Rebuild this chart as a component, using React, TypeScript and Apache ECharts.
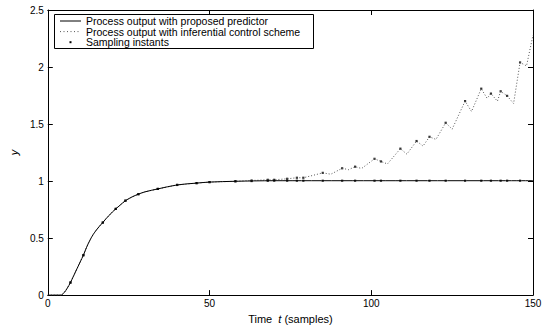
import React, { useEffect, useRef } from "react";
import * as echarts from "echarts";

// Proposed predictor (solid curve)
const solidT = [0, 4, 5, 6, 7, 8, 9, 10, 11, 12, 13, 14, 15, 16, 17, 18, 19, 20, 21, 22, 24, 26, 28, 30, 34, 40, 46, 50, 58, 70, 150];
const solidY = [0, 0, 0.02, 0.06, 0.11, 0.17, 0.23, 0.29, 0.35, 0.42, 0.48, 0.53, 0.57, 0.605, 0.636, 0.67, 0.7, 0.73, 0.756, 0.78, 0.828, 0.86, 0.885, 0.905, 0.931, 0.966, 0.982, 0.991, 0.998, 1.003, 1.003];

// Inferential control scheme (dotted curve)
const inferT = [0, 4, 5, 6, 7, 8, 9, 10, 11, 12, 13, 14, 15, 16, 17, 18, 19, 20, 21, 22, 24, 26, 28, 30, 34, 40, 46, 50, 58, 63, 68, 70, 74, 77, 79, 82, 85, 87.5, 91, 93, 95, 97, 101, 103, 105, 109, 111, 114, 116, 118, 120, 123, 125, 129, 131, 134, 135.8, 137, 139, 140, 142, 144, 146, 148, 150];
const inferY = [0, 0, 0.02, 0.06, 0.11, 0.17, 0.23, 0.29, 0.35, 0.42, 0.48, 0.53, 0.57, 0.605, 0.636, 0.67, 0.7, 0.73, 0.756, 0.78, 0.828, 0.86, 0.885, 0.905, 0.931, 0.966, 0.982, 0.991, 0.998, 1.005, 1.011, 1.011, 1.02, 1.029, 1.029, 1.05, 1.072, 1.06, 1.112, 1.1, 1.126, 1.11, 1.195, 1.172, 1.15, 1.284, 1.236, 1.351, 1.307, 1.388, 1.365, 1.511, 1.455, 1.701, 1.61, 1.81, 1.725, 1.767, 1.7, 1.787, 1.747, 1.68, 2.04, 2.01, 2.28];

// Sampling instants
const sampleT = [7, 11, 17, 21, 24, 28, 34, 40, 46, 50, 58, 63, 68, 70, 74, 77, 79, 85, 91, 95, 101, 103, 109, 114, 118, 123, 129, 134, 137, 140, 142, 146];
const sampleSolidY = [0.11, 0.35, 0.636, 0.756, 0.828, 0.885, 0.931, 0.966, 0.982, 0.991, 0.998, 1.0, 1.002, 1.003, 1.003, 1.003, 1.003, 1.003, 1.003, 1.003, 1.003, 1.003, 1.003, 1.003, 1.003, 1.003, 1.003, 1.003, 1.003, 1.003, 1.003, 1.003];
const sampleInferY = [0.11, 0.35, 0.636, 0.756, 0.828, 0.885, 0.931, 0.966, 0.982, 0.991, 0.998, 1.005, 1.011, 1.011, 1.02, 1.029, 1.029, 1.072, 1.112, 1.126, 1.195, 1.172, 1.284, 1.351, 1.388, 1.511, 1.701, 1.81, 1.767, 1.787, 1.747, 2.04];

const legendNames = [
  "Process output with proposed predictor",
  "Process output with inferential control scheme",
  "Sampling instants",
];

const FONT = "'Liberation Sans', Arial, Helvetica, sans-serif";

export default function App() {
  const ref = useRef<HTMLDivElement>(null);
  useEffect(() => {
    if (!ref.current) return;
    const chart = echarts.init(ref.current, undefined, { renderer: "svg" });
    const zip = (a: number[], b: number[]) => a.map((v, i) => [v, b[i]]);
    const axisCommon = {
      axisLine: { show: true, onZero: false, lineStyle: { color: "#000", width: 1 } },
      axisTick: { show: true, inside: true, length: 5, lineStyle: { color: "#000" } },
      splitLine: { show: false },
    };
    const lx = 54, ly = 14;
    const rowGap = 10.6;
    chart.setOption({
      animation: false,
      backgroundColor: "#fff",
      textStyle: { fontFamily: FONT },
      grid: { left: 47, right: 12, top: 10, bottom: 28, containLabel: false },
      xAxis: [
        {
          type: "value", position: "bottom", min: 0, max: 150, interval: 50,
          ...axisCommon,
          axisLabel: { color: "#000", fontSize: 10, margin: 3, fontFamily: FONT },
          name: "{a|Time  }{b|t}{a| (samples)}",
          nameLocation: "middle", nameGap: 16,
          nameTextStyle: {
            rich: {
              a: { fontSize: 11, color: "#000", fontFamily: FONT },
              b: { fontSize: 11, color: "#000", fontStyle: "italic", fontFamily: FONT },
            },
          },
        },
        {
          type: "value", position: "top", min: 0, max: 150, interval: 50,
          ...axisCommon, axisLabel: { show: false },
        },
      ],
      yAxis: [
        {
          type: "value", position: "left", min: 0, max: 2.5, interval: 0.5,
          ...axisCommon,
          axisLabel: { color: "#000", fontSize: 10, margin: 4, fontFamily: FONT },
          name: "y", nameLocation: "middle", nameGap: 26, nameRotate: 90,
          nameTextStyle: { fontSize: 11, color: "#000", fontStyle: "italic", fontFamily: FONT },
        },
        {
          type: "value", position: "right", min: 0, max: 2.5, interval: 0.5,
          ...axisCommon, axisLabel: { show: false },
        },
      ],
      series: [
        {
          name: legendNames[1], type: "line", data: zip(inferT, inferY),
          showSymbol: false, symbol: "none", smooth: false,
          lineStyle: { color: "#555", width: 1, type: [1, 2] },
        },
        {
          name: legendNames[0], type: "line", data: zip(solidT, solidY),
          showSymbol: false, symbol: "none", smooth: 0.35,
          lineStyle: { color: "#000", width: 1 },
        },
        {
          name: legendNames[2], type: "scatter", data: zip(sampleT, sampleSolidY),
          symbol: "rect", symbolSize: 2.2, itemStyle: { color: "#000" },
        },
        {
          name: legendNames[2] + " ", type: "scatter", data: zip(sampleT, sampleInferY),
          symbol: "rect", symbolSize: 2.2, itemStyle: { color: "#000" },
        },
      ],
      graphic: [
        {
          type: "rect", left: lx, top: ly, z: 100,
          shape: { width: 259, height: 34 },
          style: { fill: "#fff", stroke: "#000", lineWidth: 1 },
        },
        {
          type: "line", z: 101,
          shape: { x1: lx + 6, y1: ly + 7, x2: lx + 27, y2: ly + 7 },
          style: { stroke: "#000", lineWidth: 1 },
        },
        {
          type: "line", z: 101,
          shape: { x1: lx + 6, y1: ly + 7 + rowGap, x2: lx + 27, y2: ly + 7 + rowGap },
          style: { stroke: "#555", lineWidth: 1, lineDash: [1, 2.5] },
        },
        {
          type: "rect", z: 101,
          shape: { x: lx + 15.5, y: ly + 6 + 2 * rowGap, width: 2, height: 2 },
          style: { fill: "#000" },
        },
        ...legendNames.map((n, i) => ({
          type: "text", z: 101, x: lx + 32, y: ly + 7 + i * rowGap,
          style: { text: n, fill: "#000", font: `10.5px ${FONT}`, verticalAlign: "middle", align: "left" },
        })),
      ],
    });
    return () => chart.dispose();
  }, []);
  return (
    <div
      ref={ref}
      style={{ position: "fixed", left: 0, top: 0, width: 545, height: 329, background: "#fff" }}
    />
  );
}
